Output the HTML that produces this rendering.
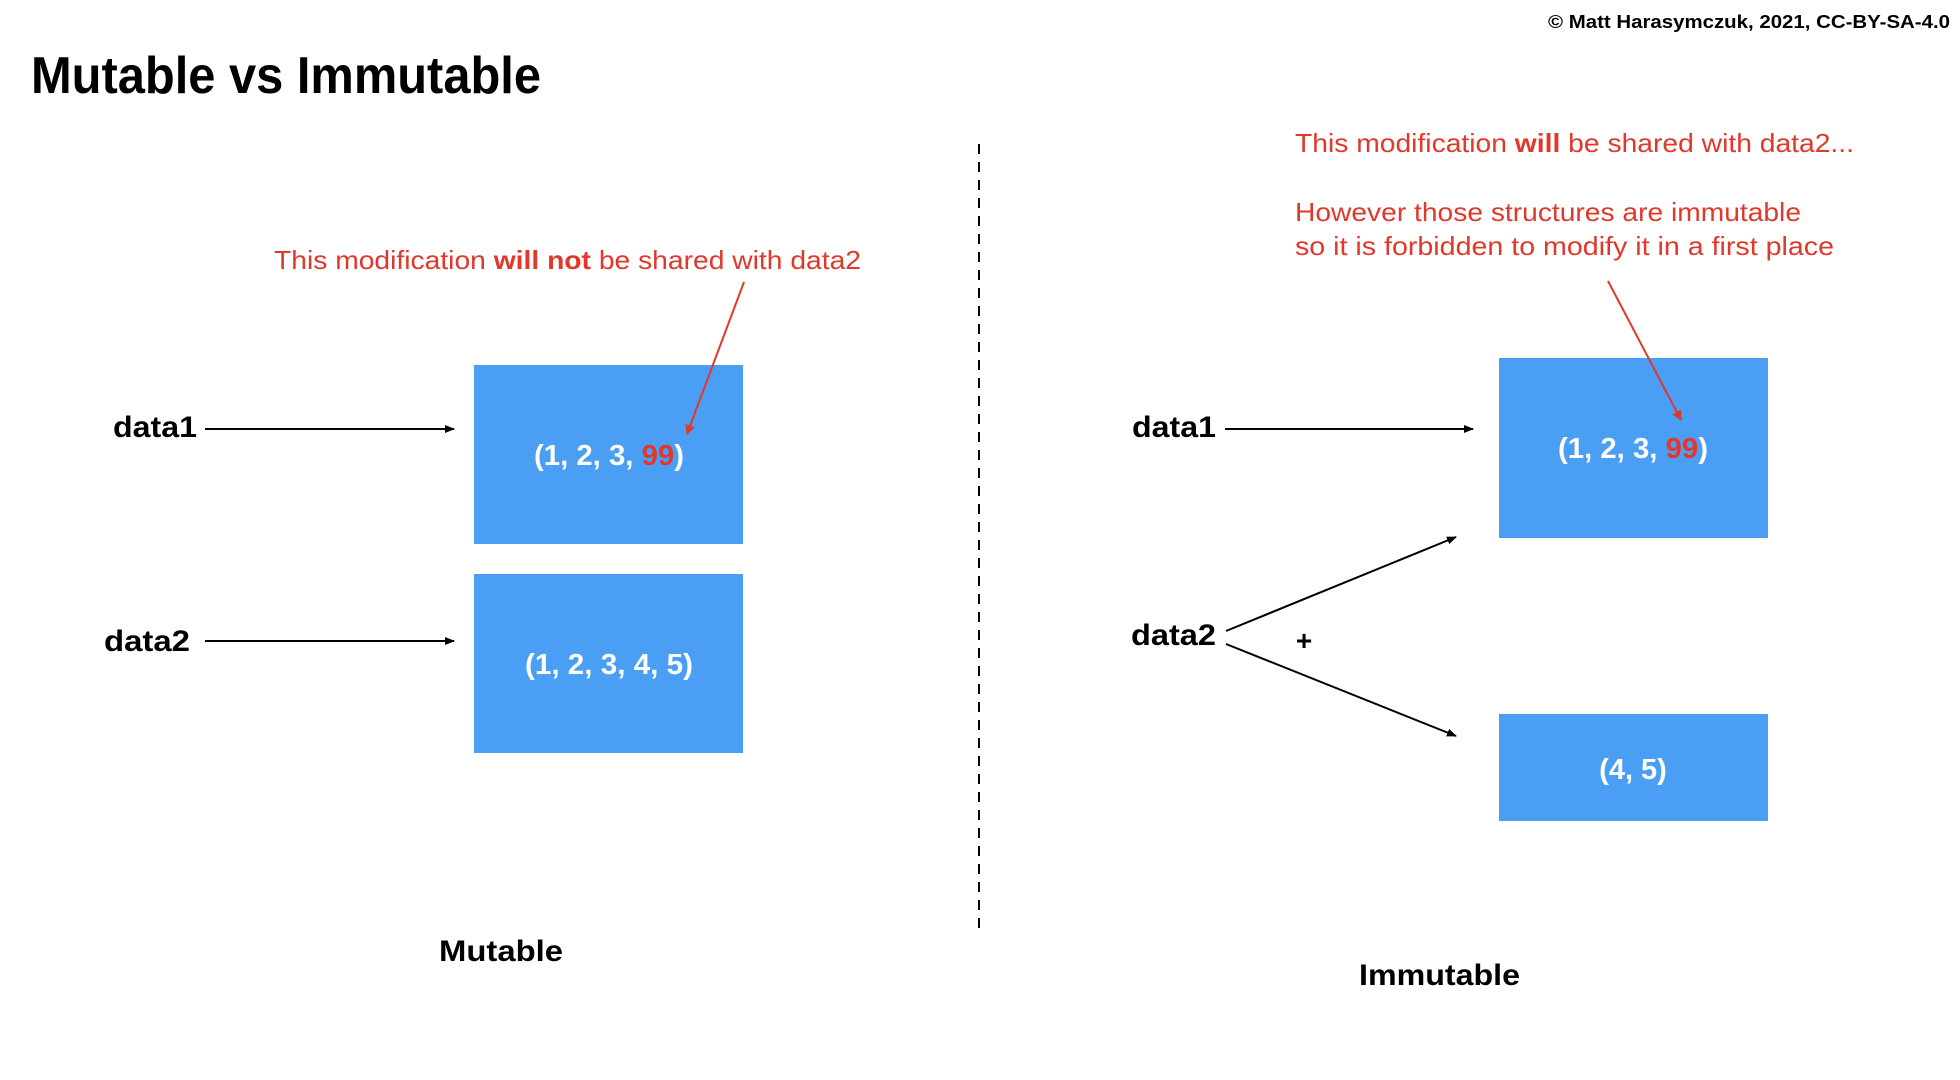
<!DOCTYPE html>
<html><head><meta charset="utf-8"><style>
html,body{margin:0;padding:0;background:#fff;}
svg{display:block;}
text{font-family:"Liberation Sans",Arial,sans-serif;}
</style></head><body>
<svg width="1960" height="1080" viewBox="0 0 1960 1080" xmlns="http://www.w3.org/2000/svg">
<defs>
<marker id="ab" markerWidth="10" markerHeight="8" refX="9" refY="4" orient="auto" markerUnits="userSpaceOnUse"><path d="M0,0 L10,4 L0,8 z" fill="#000"/></marker>
<marker id="ar" markerWidth="10" markerHeight="10" refX="9" refY="5" orient="auto" markerUnits="userSpaceOnUse"><path d="M0,0 L10,5 L0,10 z" fill="#e0382b"/></marker>
</defs>
<text x="31" y="93" font-size="52" font-weight="bold" textLength="510" lengthAdjust="spacingAndGlyphs">Mutable vs Immutable</text>
<text x="1548" y="28" font-size="18" font-weight="bold" textLength="402" lengthAdjust="spacingAndGlyphs">© Matt Harasymczuk, 2021, CC-BY-SA-4.0</text>
<line x1="979" y1="144" x2="979" y2="936" stroke="#000" stroke-width="2" stroke-dasharray="10,8"/>

<!-- Left -->
<rect x="474" y="365" width="269" height="179" fill="#4a9ff5"/>
<rect x="474" y="574" width="269" height="179" fill="#4a9ff5"/>
<text x="534" y="465" font-size="29" font-weight="bold" fill="#fff" textLength="150" lengthAdjust="spacingAndGlyphs">(1, 2, 3, <tspan fill="#e0382b">99</tspan>)</text>
<text x="525" y="674" font-size="29" font-weight="bold" fill="#fff" textLength="168" lengthAdjust="spacingAndGlyphs">(1, 2, 3, 4, 5)</text>
<text x="113" y="437" font-size="30" font-weight="bold" textLength="84" lengthAdjust="spacingAndGlyphs">data1</text>
<text x="104" y="651" font-size="30" font-weight="bold" textLength="86" lengthAdjust="spacingAndGlyphs">data2</text>
<line x1="205" y1="429" x2="454" y2="429" stroke="#000" stroke-width="2" marker-end="url(#ab)"/>
<line x1="205" y1="641" x2="454" y2="641" stroke="#000" stroke-width="2" marker-end="url(#ab)"/>
<text x="274" y="269" font-size="26" fill="#e0382b" textLength="587" lengthAdjust="spacingAndGlyphs">This modification <tspan font-weight="bold">will not</tspan> be shared with data2</text>
<line x1="744" y1="282" x2="687" y2="434" stroke="#e0382b" stroke-width="2" marker-end="url(#ar)"/>
<text x="439" y="961" font-size="30" font-weight="bold" textLength="124" lengthAdjust="spacingAndGlyphs">Mutable</text>

<!-- Right -->
<rect x="1499" y="358" width="269" height="180" fill="#4a9ff5"/>
<rect x="1499" y="714" width="269" height="107" fill="#4a9ff5"/>
<text x="1558" y="458" font-size="29" font-weight="bold" fill="#fff" textLength="150" lengthAdjust="spacingAndGlyphs">(1, 2, 3, <tspan fill="#e0382b">99</tspan>)</text>
<text x="1633" y="779" font-size="29" font-weight="bold" fill="#fff" text-anchor="middle">(4, 5)</text>
<text x="1132" y="437" font-size="30" font-weight="bold" textLength="84" lengthAdjust="spacingAndGlyphs">data1</text>
<text x="1131" y="645" font-size="30" font-weight="bold" textLength="85" lengthAdjust="spacingAndGlyphs">data2</text>
<line x1="1225" y1="429" x2="1473" y2="429" stroke="#000" stroke-width="2" marker-end="url(#ab)"/>
<line x1="1226" y1="631" x2="1456" y2="537" stroke="#000" stroke-width="2" marker-end="url(#ab)"/>
<line x1="1226" y1="644" x2="1456" y2="736" stroke="#000" stroke-width="2" marker-end="url(#ab)"/>
<text x="1304" y="650" font-size="28" font-weight="bold" text-anchor="middle">+</text>
<text x="1295" y="152" font-size="26" fill="#e0382b" textLength="559" lengthAdjust="spacingAndGlyphs">This modification <tspan font-weight="bold">will</tspan> be shared with data2...</text>
<text x="1295" y="221" font-size="26" fill="#e0382b" textLength="506" lengthAdjust="spacingAndGlyphs">However those structures are immutable</text>
<text x="1295" y="255" font-size="26" fill="#e0382b" textLength="539" lengthAdjust="spacingAndGlyphs">so it is forbidden to modify it in a first place</text>
<line x1="1608" y1="281" x2="1681" y2="420" stroke="#e0382b" stroke-width="2" marker-end="url(#ar)"/>
<text x="1359" y="985" font-size="30" font-weight="bold" textLength="161" lengthAdjust="spacingAndGlyphs">Immutable</text>
</svg>
</body></html>
